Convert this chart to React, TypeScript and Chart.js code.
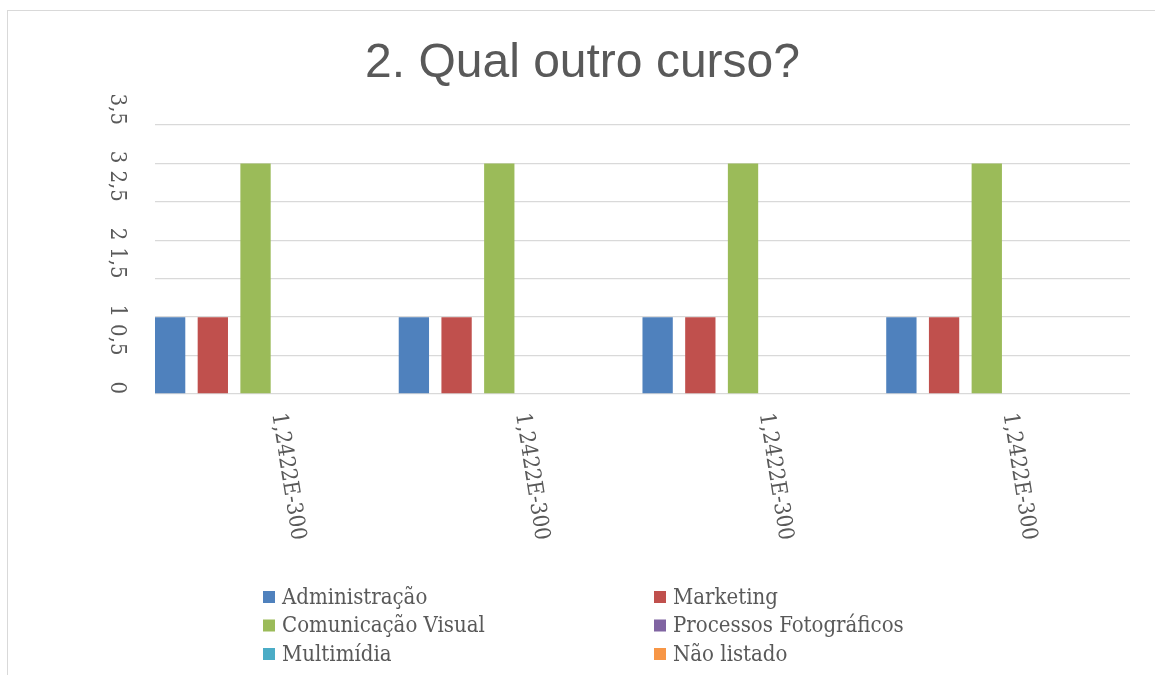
import React, { useEffect, useRef } from "react";
import { Chart, registerables } from "chart.js";

Chart.register(...registerables);

const titleText = "2. Qual outro curso?";
const categories = ["1,2422E-300", "1,2422E-300", "1,2422E-300", "1,2422E-300"];
const seriesNames = [
  "Administração",
  "Marketing",
  "Comunicação Visual",
  "Processos Fotográficos",
  "Multimídia",
  "Não listado",
];
const administracao = [1, 1, 1, 1];
const marketing = [1, 1, 1, 1];
const comunicacaoVisual = [3, 3, 3, 3];
const processosFotograficos = [0, 0, 0, 0];
const multimidia = [0, 0, 0, 0];
const naoListado = [0, 0, 0, 0];
const seriesColors = ["#4F81BD", "#C0504D", "#9BBB59", "#8064A2", "#4BACC6", "#F79646"];
const yMin = 0;
const yMax = 3.5;
const yStep = 0.5;

const LABEL_FONT = "22px 'DejaVu Serif Condensed', 'DejaVu Serif', serif";
const TEXT_COLOR = "#595959";
const GRID_COLOR = "#d9d9d9";

const decorPlugin = {
  id: "decor",
  afterDraw(chart: any) {
    const ctx = chart.ctx as CanvasRenderingContext2D;
    const area = chart.chartArea;
    const xScale = chart.scales.x;
    const yScale = chart.scales.y;
    ctx.save();

    // outer border
    ctx.strokeStyle = GRID_COLOR;
    ctx.lineWidth = 1;
    ctx.strokeRect(7.5, 10.5, 1400, 1000);

    // title
    ctx.fillStyle = TEXT_COLOR;
    ctx.font = "48px 'Liberation Sans', Arial, sans-serif";
    ctx.textAlign = "center";
    ctx.textBaseline = "alphabetic";
    ctx.fillText(titleText, 582.5, 77);

    // y tick labels (rotated)
    ctx.font = LABEL_FONT;
    yScale.ticks.forEach((t: any) => {
      const y = yScale.getPixelForValue(t.value);
      const lbl = String(t.value).replace(".", ",");
      ctx.save();
      ctx.translate(117, y);
      ctx.rotate(Math.PI / 2);
      ctx.textAlign = "right";
      ctx.textBaseline = "middle";
      ctx.fillText(lbl, 0, 0);
      ctx.restore();
    });

    // x tick labels (rotated, slightly skewed)
    categories.forEach((c, i) => {
      const x = xScale.getPixelForTick(i);
      ctx.save();
      ctx.translate(x + 1, area.bottom + 19);
      ctx.rotate((81 * Math.PI) / 180);
      ctx.textAlign = "left";
      ctx.textBaseline = "middle";
      ctx.fillText(c, 0, 0);
      ctx.restore();
    });

    // legend, 2 columns x 3 rows
    const colX = [263, 654];
    const rowY = [597, 625.5, 654];
    chart.data.datasets.forEach((ds: any, i: number) => {
      const cx = colX[i % 2];
      const cy = rowY[Math.floor(i / 2)];
      ctx.fillStyle = ds.backgroundColor;
      ctx.fillRect(cx, cy - 6, 12, 12);
      ctx.fillStyle = TEXT_COLOR;
      ctx.textAlign = "left";
      ctx.textBaseline = "middle";
      ctx.fillText(ds.label, cx + 19, cy + 1);
    });

    ctx.restore();
  },
};

export default function App() {
  const canvasRef = useRef<HTMLCanvasElement | null>(null);

  useEffect(() => {
    const canvas = canvasRef.current;
    if (!canvas) return;
    const seriesValues = [
      administracao,
      marketing,
      comunicacaoVisual,
      processosFotograficos,
      multimidia,
      naoListado,
    ];
    const chart = new Chart(canvas, {
      type: "bar",
      data: {
        labels: categories,
        datasets: seriesNames.map((name, i) => ({
          label: name,
          data: seriesValues[i],
          backgroundColor: seriesColors[i],
          borderWidth: 0,
          categoryPercentage: 1.051,
          barPercentage: 0.71,
        })),
      },
      options: {
        responsive: false,
        animation: false,
        devicePixelRatio: 1,
        layout: { padding: { left: 155, right: 25, top: 125, bottom: 281 } },
        plugins: {
          legend: { display: false },
          title: { display: false },
          tooltip: { enabled: false },
        },
        scales: {
          x: {
            ticks: { display: false },
            grid: { display: false, drawTicks: false },
            border: { display: false },
            afterFit: (s: any) => {
              s.height = 0;
            },
          },
          y: {
            min: yMin,
            max: yMax,
            ticks: { display: false, stepSize: yStep },
            grid: { color: GRID_COLOR, lineWidth: 1.3, drawTicks: false },
            border: { display: false },
            afterFit: (s: any) => {
              s.width = 0;
            },
          },
        },
      },
      plugins: [decorPlugin],
    });
    return () => chart.destroy();
  }, []);

  return (
    <div style={{ position: "fixed", left: 0, top: 0, width: 1155, height: 675, background: "#fff" }}>
      <canvas ref={canvasRef} width={1155} height={675} style={{ width: 1155, height: 675 }} />
    </div>
  );
}
